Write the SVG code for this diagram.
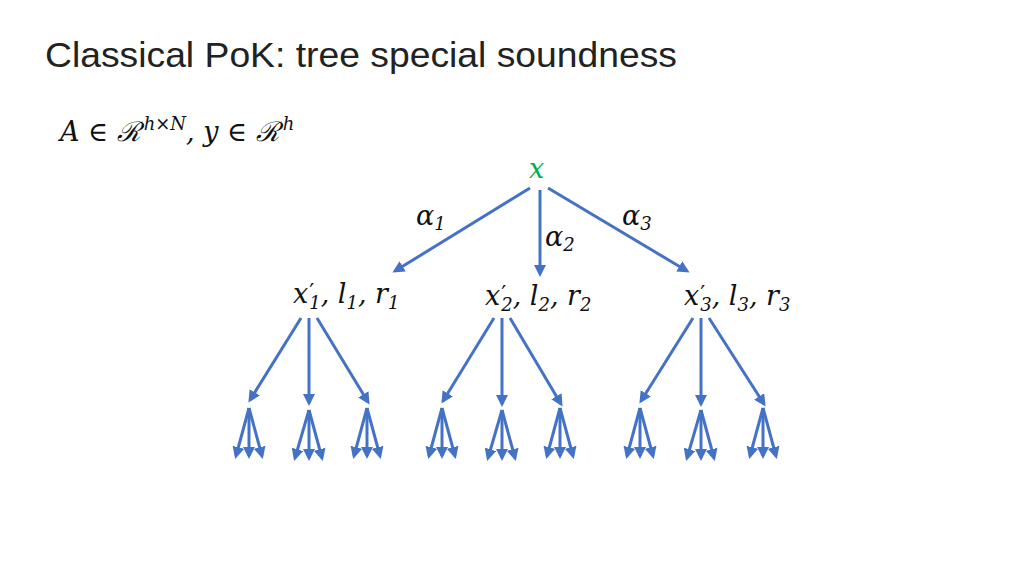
<svg xmlns="http://www.w3.org/2000/svg" width="1024" height="576" viewBox="0 0 1024 576">
<style>
.t{font-family:"Liberation Sans",Arial,sans-serif;font-size:35px;fill:#222}
.m{font-family:"DejaVu Serif","Liberation Serif",serif;font-style:italic;font-size:27px;fill:#111}
.s{font-size:18px}
.p{font-size:22px;font-style:normal}
.c line{stroke:#4472C4;stroke-width:3;marker-end:url(#a)}
</style>
<defs><marker id="a" markerWidth="4" markerHeight="4" refX="3" refY="2" orient="auto"><path d="M0,0 L4,2 L0,4 Z" fill="#4472C4"/></marker></defs>
<rect width="1024" height="576" fill="#fff"/>
<text class="t" x="45" y="67" textLength="632" lengthAdjust="spacingAndGlyphs">Classical PoK: tree special soundness</text>
<text class="m" x="60" y="141">A ∈ ℛ<tspan class="s" dx="3" dy="-11">h×N</tspan><tspan dy="11">, y ∈ ℛ</tspan><tspan class="s" dx="3" dy="-11">h</tspan></text>
<g id="root"><text class="m" x="529" y="178" style="fill:#00B050">x</text></g>
<g id="labels">
<text class="m" x="416" y="225">α<tspan class="s" dy="5">1</tspan></text>
<text class="m" x="545" y="246">α<tspan class="s" dy="5">2</tspan></text>
<text class="m" x="622" y="225">α<tspan class="s" dy="5">3</tspan></text>
</g>
<g id="n1"><text class="m" x="293" y="303">x<tspan class="p" dx="1" dy="-4">′</tspan><tspan class="s" dx="-5" dy="10">1</tspan><tspan dy="-6">, l</tspan><tspan class="s" dy="6">1</tspan><tspan dy="-6">, r</tspan><tspan class="s" dy="6">1</tspan></text></g>
<g id="n2"><text class="m" x="485" y="305">x<tspan class="p" dx="1" dy="-4">′</tspan><tspan class="s" dx="-5" dy="10">2</tspan><tspan dy="-6">, l</tspan><tspan class="s" dy="6">2</tspan><tspan dy="-6">, r</tspan><tspan class="s" dy="6">2</tspan></text></g>
<g id="n3"><text class="m" x="684" y="305">x<tspan class="p" dx="1" dy="-4">′</tspan><tspan class="s" dx="-5" dy="10">3</tspan><tspan dy="-6">, l</tspan><tspan class="s" dy="6">3</tspan><tspan dy="-6">, r</tspan><tspan class="s" dy="6">3</tspan></text></g>
<g class="c" id="connectors">
<line x1="530" y1="188" x2="395" y2="271"/>
<line x1="540" y1="190" x2="540" y2="274"/>
<line x1="548" y1="188" x2="687" y2="271"/>
<line x1="301" y1="318" x2="250" y2="400"/>
<line x1="309" y1="318" x2="309" y2="403"/>
<line x1="317" y1="318" x2="368" y2="402"/>
<line x1="494" y1="318" x2="443" y2="401"/>
<line x1="502" y1="318" x2="502" y2="404"/>
<line x1="510" y1="318" x2="561" y2="404"/>
<line x1="693" y1="318" x2="641" y2="401"/>
<line x1="701" y1="318" x2="701" y2="404"/>
<line x1="709" y1="318" x2="764" y2="404"/>
<g id="leaves">
<line x1="249" y1="408" x2="236" y2="456"/><line x1="249" y1="408" x2="249" y2="456"/><line x1="249" y1="408" x2="262" y2="456"/>
<line x1="309" y1="410" x2="295" y2="458"/><line x1="309" y1="410" x2="309" y2="458"/><line x1="309" y1="410" x2="322" y2="458"/>
<line x1="367" y1="408" x2="354" y2="456"/><line x1="367" y1="408" x2="367" y2="456"/><line x1="367" y1="408" x2="380" y2="456"/>
<line x1="442" y1="408" x2="429" y2="456"/><line x1="442" y1="408" x2="442" y2="456"/><line x1="442" y1="408" x2="455" y2="456"/>
<line x1="502" y1="410" x2="488" y2="458"/><line x1="502" y1="410" x2="502" y2="458"/><line x1="502" y1="410" x2="515" y2="458"/>
<line x1="560" y1="408" x2="547" y2="456"/><line x1="560" y1="408" x2="560" y2="456"/><line x1="560" y1="408" x2="573" y2="456"/>
<line x1="640" y1="408" x2="627" y2="456"/><line x1="640" y1="408" x2="640" y2="456"/><line x1="640" y1="408" x2="653" y2="456"/>
<line x1="701" y1="410" x2="687" y2="458"/><line x1="701" y1="410" x2="701" y2="458"/><line x1="701" y1="410" x2="714" y2="458"/>
<line x1="763" y1="408" x2="750" y2="456"/><line x1="763" y1="408" x2="763" y2="456"/><line x1="763" y1="408" x2="776" y2="456"/>
</g>
</g>
</svg>
